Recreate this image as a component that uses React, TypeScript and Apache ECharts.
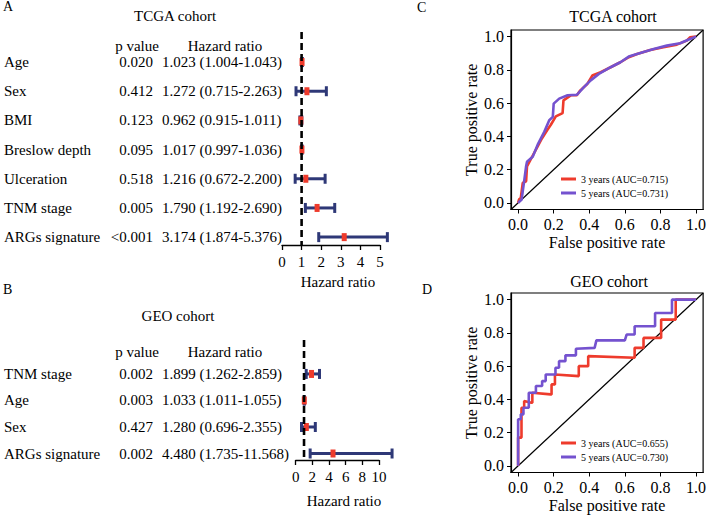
import React, { useEffect, useRef } from 'react';
import * as echarts from 'echarts';

const FONT = "'Liberation Serif', 'Times New Roman', serif";
const RED = '#EE3B2C';
const PURPLE = '#7452CF';
const NAVY = '#2E3877';

// ---- Forest plot A (TCGA) ----
const tcgaVars = ['Age', 'Sex', 'BMI', 'Breslow depth', 'Ulceration', 'TNM stage', 'ARGs signature'];
const tcgaP = ['0.020', '0.412', '0.123', '0.095', '0.518', '0.005', '<0.001'];
const tcgaHR = [1.023, 1.272, 0.962, 1.017, 1.216, 1.79, 3.174];
const tcgaLow = [1.004, 0.715, 0.915, 0.997, 0.672, 1.192, 1.874];
const tcgaHigh = [1.043, 2.263, 1.011, 1.036, 2.2, 2.69, 5.376];
const tcgaTicks = [0, 1, 2, 3, 4, 5];

// ---- Forest plot B (GEO) ----
const geoVars = ['TNM stage', 'Age', 'Sex', 'ARGs signature'];
const geoP = ['0.002', '0.003', '0.427', '0.002'];
const geoHR = [1.899, 1.033, 1.28, 4.48];
const geoLow = [1.262, 1.011, 0.696, 1.735];
const geoHigh = [2.859, 1.055, 2.355, 11.568];

// ---- ROC C (TCGA) ----
const tcga3yName = '3 years (AUC=0.715)';
const tcga5yName = '5 years (AUC=0.731)';
const tcga3y = [[0,0],[0.005,0.02],[0.015,0.03],[0.02,0.07],[0.026,0.12],[0.045,0.13],[0.05,0.22],[0.07,0.26],[0.09,0.3],[0.11,0.34],[0.13,0.38],[0.147,0.41],[0.165,0.44],[0.184,0.47],[0.212,0.52],[0.25,0.54],[0.255,0.617],[0.296,0.647],[0.33,0.647],[0.35,0.677],[0.39,0.717],[0.417,0.766],[0.464,0.786],[0.52,0.816],[0.575,0.846],[0.622,0.876],[0.669,0.896],[0.743,0.92],[0.817,0.936],[0.892,0.952],[0.948,0.976],[0.966,0.996],[1,1]];
const tcga5y = [[0,0],[0.02,0.02],[0.026,0.07],[0.035,0.138],[0.045,0.22],[0.05,0.247],[0.082,0.277],[0.11,0.35],[0.147,0.427],[0.175,0.497],[0.195,0.517],[0.2,0.597],[0.231,0.627],[0.278,0.647],[0.33,0.65],[0.37,0.696],[0.408,0.737],[0.454,0.776],[0.52,0.816],[0.575,0.846],[0.622,0.88],[0.687,0.902],[0.762,0.926],[0.836,0.946],[0.911,0.96],[0.966,0.986],[1,1]];

// ---- ROC D (GEO) ----
const geo3yName = '3 years (AUC=0.655)';
const geo5yName = '5 years (AUC=0.730)';
const geo3y = [[0,0],[0,0.17],[0.019,0.17],[0.019,0.35],[0.034,0.35],[0.034,0.39],[0.075,0.38],[0.08,0.38],[0.08,0.44],[0.183,0.43],[0.188,0.43],[0.188,0.49],[0.207,0.49],[0.207,0.55],[0.341,0.54],[0.341,0.6],[0.394,0.6],[0.394,0.66],[0.655,0.65],[0.655,0.71],[0.705,0.71],[0.705,0.77],[0.804,0.77],[0.804,0.88],[0.886,0.88],[0.886,1],[1,1]];
const geo5y = [[0,0],[0,0.28],[0.015,0.28],[0.015,0.31],[0.03,0.31],[0.03,0.35],[0.06,0.35],[0.06,0.44],[0.1,0.44],[0.1,0.48],[0.135,0.48],[0.135,0.51],[0.155,0.51],[0.155,0.55],[0.21,0.55],[0.21,0.59],[0.23,0.59],[0.23,0.63],[0.266,0.63],[0.266,0.665],[0.325,0.665],[0.325,0.705],[0.43,0.71],[0.44,0.755],[0.6,0.755],[0.61,0.79],[0.655,0.79],[0.655,0.84],[0.77,0.84],[0.77,0.92],[0.865,0.92],[0.865,1],[1,1]];
const rocTicks = [0, 0.2, 0.4, 0.6, 0.8, 1.0];

const fmt = (v: number) => v.toFixed(3);

function ciSeries(idx: number, hr: number[], lo: number[], hi: number[]) {
  return {
    type: 'custom',
    xAxisIndex: idx,
    yAxisIndex: idx,
    clip: false,
    silent: true,
    data: hr.map((h, i) => [i, lo[i], hi[i], h]),
    encode: { x: [1, 2, 3], y: 0 },
    renderItem: (params: any, api: any) => {
      const row = api.value(0);
      const pLo = api.coord([api.value(1), row]);
      const pHi = api.coord([api.value(2), row]);
      const pHr = api.coord([api.value(3), row]);
      const cap = 5;
      const ls = { stroke: NAVY, lineWidth: 3 };
      return {
        type: 'group',
        children: [
          { type: 'line', shape: { x1: pLo[0], y1: pLo[1], x2: pHi[0], y2: pHi[1] }, style: ls },
          { type: 'line', shape: { x1: pLo[0], y1: pLo[1] - cap, x2: pLo[0], y2: pLo[1] + cap }, style: ls },
          { type: 'line', shape: { x1: pHi[0], y1: pHi[1] - cap, x2: pHi[0], y2: pHi[1] + cap }, style: ls },
          { type: 'rect', shape: { x: pHr[0] - 2.5, y: pHr[1] - 4, width: 5, height: 8 }, style: { fill: RED } },
        ],
      };
    },
    z: 3,
  };
}

function textSeries(idx: number, labels: string[], pv: string[], hr: number[], lo: number[], hi: number[]) {
  const hrText = hr.map((h, i) => `${fmt(h)} (${fmt(lo[i])}-${fmt(hi[i])})`);
  const st = { fontSize: 15, fontFamily: FONT, fill: '#000', verticalAlign: 'middle' };
  return {
    type: 'custom',
    xAxisIndex: idx,
    yAxisIndex: idx,
    clip: false,
    silent: true,
    data: labels.map((_, i) => [0, i]),
    encode: { x: 0, y: 1 },
    renderItem: (params: any, api: any) => {
      const i = api.value(1);
      const y = api.coord([0, i])[1];
      return {
        type: 'group',
        children: [
          { type: 'text', x: 4, y, style: { ...st, text: labels[i], align: 'left' } },
          { type: 'text', x: 153, y, style: { ...st, text: pv[i], align: 'right' } },
          { type: 'text', x: 162, y, style: { ...st, text: hrText[i], align: 'left' } },
        ],
      };
    },
  };
}

function refLine(idx: number, yMin: number, yMax: number) {
  return {
    type: 'line',
    xAxisIndex: idx,
    yAxisIndex: idx,
    data: [[1, yMin], [1, yMax]],
    symbol: 'none',
    silent: true,
    lineStyle: { color: '#000', width: 2.6, type: [7, 4] },
    z: 4,
  };
}

export default function App() {
  const ref = useRef<HTMLDivElement>(null);
  useEffect(() => {
    if (!ref.current) return;
    const chart = echarts.init(ref.current, undefined, { renderer: 'svg' });
    const aMin = -1.03, aMax = 6.27;
    const bMin = -1.28, bMax = 3.245;
    const forestX = (gi: number, max: number, interval: number) => ({
      type: 'value', gridIndex: gi, min: 0, max, interval,
      axisLine: { show: true, onZero: false, lineStyle: { color: '#000', width: 1.3 } },
      axisTick: { show: true, length: 5, lineStyle: { color: '#000', width: 1.3 } },
      axisLabel: { fontSize: 15, fontFamily: FONT, color: '#000', margin: 9 },
      splitLine: { show: false },
    });
    const rocX = (gi: number) => ({
      type: 'value', gridIndex: gi, min: -0.04, max: 1.04,
      axisLine: { show: true, onZero: false, lineStyle: { color: '#000', width: 1.2 } },
      axisTick: { show: true, length: 4, customValues: rocTicks, lineStyle: { color: '#000' } },
      axisLabel: { customValues: rocTicks, formatter: (v: number) => v.toFixed(1), fontSize: 16, fontFamily: FONT, color: '#000', margin: 7 },
      splitLine: { show: false },
      name: 'False positive rate', nameLocation: 'middle', nameGap: 25,
      nameTextStyle: { fontSize: 16, fontFamily: FONT, color: '#000' },
    });
    const rocY = (gi: number) => ({
      type: 'value', gridIndex: gi, min: -0.04, max: 1.04,
      axisLine: { show: true, onZero: false, lineStyle: { color: '#000', width: 1.2 } },
      axisTick: { show: true, length: 4, customValues: rocTicks, lineStyle: { color: '#000' } },
      axisLabel: { customValues: rocTicks, formatter: (v: number) => v.toFixed(1), fontSize: 16, fontFamily: FONT, color: '#000', margin: 7 },
      splitLine: { show: false },
      name: 'True positive rate', nameLocation: 'middle', nameGap: 32,
      nameTextStyle: { fontSize: 16, fontFamily: FONT, color: '#000' },
    });
    const txt = (text: string, x: number, y: number, size = 15, align = 'center') => ({
      type: 'text', x, y,
      style: { text, fontSize: size, fontFamily: FONT, fill: '#000', align, verticalAlign: 'middle' },
    });
    const rocLine = (gi: number, name: string, data: number[][], color: string) => ({
      type: 'line', name, xAxisIndex: gi, yAxisIndex: gi, data, symbol: 'none',
      lineStyle: { color, width: 2.6 }, itemStyle: { color }, z: 3,
    });
    const diag = (gi: number) => ({
      type: 'line', xAxisIndex: gi, yAxisIndex: gi, data: [[-0.04, -0.04], [1.04, 1.04]],
      symbol: 'none', silent: true, lineStyle: { color: '#000', width: 1.2 }, z: 2,
    });
    const legend = (names: string[], top: number) => ({
      data: names, left: 556, top, orient: 'vertical', icon: 'rect',
      itemWidth: 15, itemHeight: 3, itemGap: 2, selectedMode: false,
      textStyle: { fontSize: 10, fontFamily: FONT, color: '#000', lineHeight: 12 },
    });

    chart.setOption({
      animation: false,
      backgroundColor: '#fff',
      grid: [
        { left: 282, top: 32, width: 98, height: 213 },
        { left: 295.7, top: 340, width: 83.3, height: 120 },
        { left: 511, top: 30, width: 193, height: 179.5, show: true, borderColor: '#000', borderWidth: 1.2 },
        { left: 511, top: 293, width: 193, height: 179.5, show: true, borderColor: '#000', borderWidth: 1.2 },
      ],
      xAxis: [forestX(0, 5, 1), forestX(1, 10, 2), rocX(2), rocX(3)],
      yAxis: [
        { type: 'value', gridIndex: 0, min: aMin, max: aMax, inverse: true, show: false },
        { type: 'value', gridIndex: 1, min: bMin, max: bMax, inverse: true, show: false },
        rocY(2),
        rocY(3),
      ],
      legend: [legend([tcga3yName, tcga5yName], 168), legend([geo3yName, geo5yName], 432)],
      series: [
        textSeries(0, tcgaVars, tcgaP, tcgaHR, tcgaLow, tcgaHigh),
        ciSeries(0, tcgaHR, tcgaLow, tcgaHigh),
        refLine(0, aMin, aMax),
        textSeries(1, geoVars, geoP, geoHR, geoLow, geoHigh),
        ciSeries(1, geoHR, geoLow, geoHigh),
        refLine(1, bMin, bMax),
        diag(2),
        rocLine(2, tcga3yName, tcga3y, RED),
        rocLine(2, tcga5yName, tcga5y, PURPLE),
        diag(3),
        rocLine(3, geo3yName, geo3y, RED),
        rocLine(3, geo5yName, geo5y, PURPLE),
      ],
      graphic: [
        txt('A', 3, 6, 14, 'left'),
        txt('TCGA cohort', 175, 16),
        txt('p value', 137, 46),
        txt('Hazard ratio', 225, 46),
        txt('Hazard ratio', 338, 282),
        txt('B', 3, 289, 14, 'left'),
        txt('GEO cohort', 178, 316),
        txt('p value', 137, 352),
        txt('Hazard ratio', 225, 352),
        txt('Hazard ratio', 344, 501),
        txt('C', 417, 7, 14, 'left'),
        txt('TCGA cohort', 613, 16, 16),
        txt('D', 422, 289, 14, 'left'),
        txt('GEO cohort', 609, 281, 16),
      ],
    });
    return () => chart.dispose();
  }, []);
  return <div ref={ref} style={{ position: 'fixed', left: 0, top: 0, width: 709, height: 515 }} />;
}
